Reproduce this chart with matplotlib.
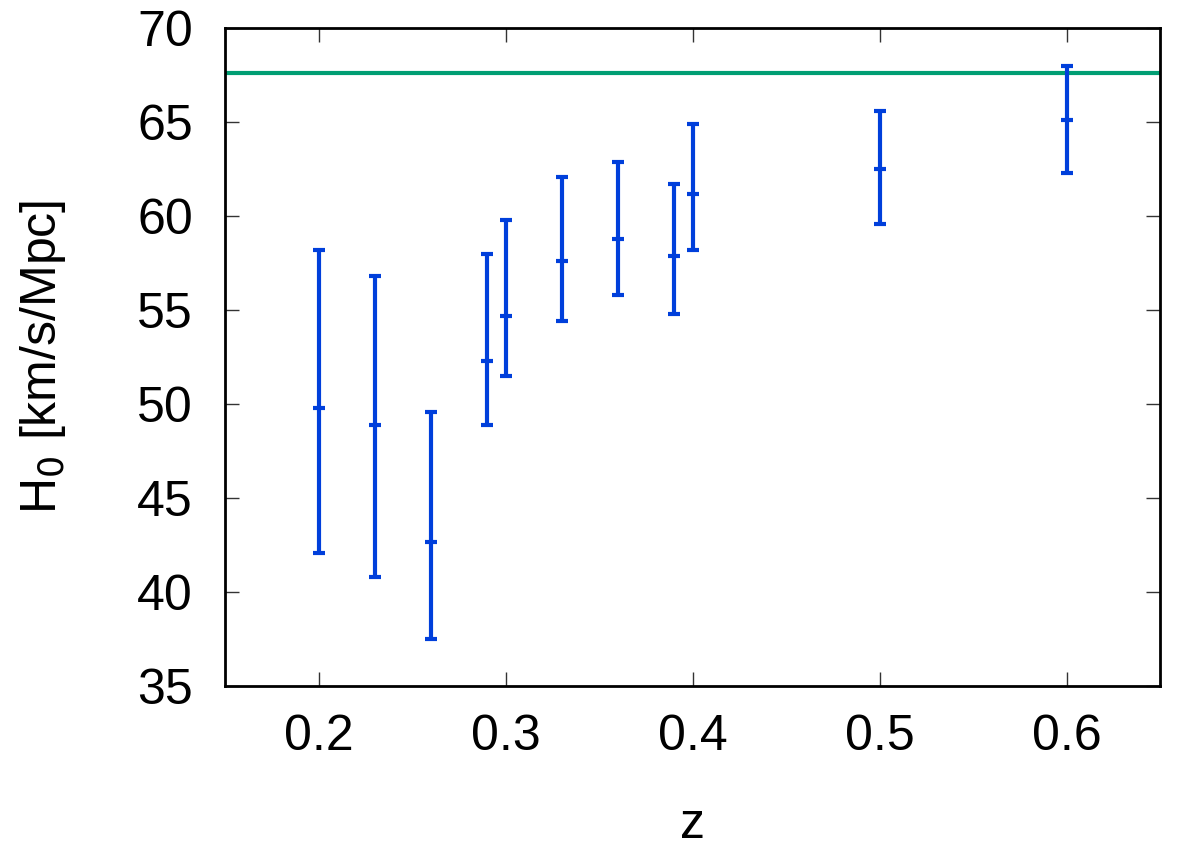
import matplotlib
matplotlib.use("Agg")
import matplotlib.pyplot as plt
import numpy as np

plt.rcParams['font.family'] = ['Liberation Sans', 'DejaVu Sans']

z = [0.20, 0.23, 0.26, 0.29, 0.30, 0.33, 0.36, 0.39, 0.40, 0.50, 0.60]
h0 = [49.8, 48.9, 42.7, 52.3, 54.7, 57.6, 58.8, 57.9, 61.2, 62.5, 65.1]
h0_low = [42.1, 40.8, 37.5, 48.9, 51.5, 54.45, 55.8, 54.8, 58.2, 59.6, 62.3]
h0_high = [58.2, 56.8, 49.6, 58.0, 59.8, 62.1, 62.9, 61.7, 64.9, 65.6, 68.0]
h0_ref = 67.6

xticks = [0.2, 0.3, 0.4, 0.5, 0.6]
yticks = [35, 40, 45, 50, 55, 60, 65, 70]

fig = plt.figure(figsize=(11.96, 8.5), dpi=100)
ax = fig.add_axes([225/1196, 1 - 686.3/850, (1160-225)/1196, (686.3-28.3)/850])

ax.axhline(h0_ref, color='#009e73', lw=3, zorder=1)

yerr = np.array([np.array(h0) - np.array(h0_low), np.array(h0_high) - np.array(h0)])
blue = '#003fdb'
ax.errorbar(z, h0, yerr=yerr, fmt='_', color=blue, ecolor=blue, elinewidth=3,
            capsize=4, capthick=3, markersize=8, markeredgewidth=3, zorder=3)

ax.set_xlim(0.15, 0.65)
ax.set_ylim(35, 70)
ax.set_xticks(xticks)
ax.set_xticklabels([f"{t:.1f}" for t in xticks])
ax.set_yticks(yticks)
ax.tick_params(direction='in', length=10, width=1, top=True, right=True,
               labelsize=36, color='#333333')
ax.tick_params(axis='x', pad=20)
ax.tick_params(axis='y', pad=23)
for s in ax.spines.values():
    s.set_linewidth(2)
    s.set_color('black')

ax.set_xlabel('z', fontsize=36, labelpad=30)
ax.set_ylabel('H$_0$ [km/s/Mpc]', fontsize=36, labelpad=50)

fig.savefig('out.png', dpi=100)
